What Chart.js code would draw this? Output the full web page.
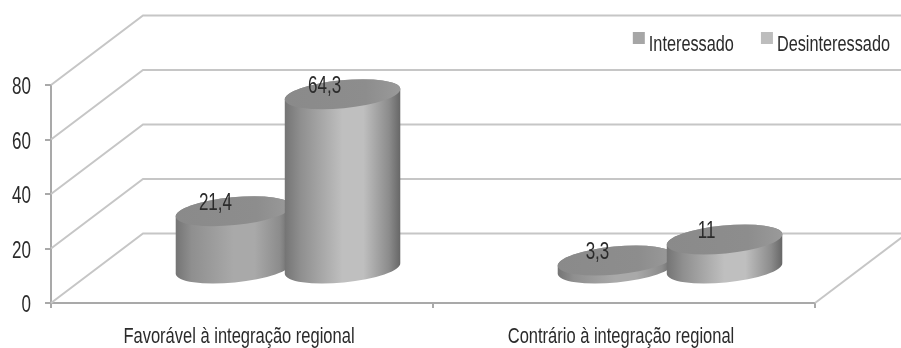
<!DOCTYPE html>
<html>
<head>
<meta charset="utf-8">
<style>
  html, body { margin: 0; padding: 0; background: #fff; }
  canvas { display: block; }
</style>
<script src="https://cdn.jsdelivr.net/npm/chart.js@4"></script>
</head>
<body>
<canvas id="myChart" width="901" height="348"></canvas>
<script>
const categories = ['Favorável à integração regional', 'Contrário à integração regional'];
const interessado = [21.4, 3.3];
const desinteressado = [64.3, 11];
const yTicks = [0, 20, 40, 60, 80];

const FONT = '"Liberation Sans", sans-serif';
const TEXT = '#2b2b2b';
const SQUEEZE = 0.74;               // condensed look, no narrow face installed
const DEPTH_X = 92, DEPTH_Y = 69.5; // how far the back wall sits from the front plane
const MID_X = 46, MID_Y = 33.5;     // where the cylinders stand on the floor
const TILT = -5.5 * Math.PI / 180;  // cap ellipses lean a little
const CAP_B = 14;

const canvas = document.getElementById('myChart');
const ctx = canvas.getContext('2d');

// every text call goes through a horizontal squeeze, the library's too
const rawFillText = ctx.fillText.bind(ctx);
const rawMeasureText = ctx.measureText.bind(ctx);
ctx.fillText = function (str, x, y) {
  ctx.save();
  ctx.translate(x, y);
  ctx.scale(SQUEEZE, 1);
  rawFillText(str, 0, 0);
  ctx.restore();
};
ctx.measureText = function (str) {
  return { width: rawMeasureText(str).width * SQUEEZE };
};

// small square for the legend, offset inside its canvas so it lines up with the text
function swatch(color) {
  const c = document.createElement('canvas');
  c.width = 24; c.height = 30;
  const g = c.getContext('2d');
  g.fillStyle = color;
  g.fillRect(8, 2, 12, 12);
  return c;
}

// bars are drawn as cylinders standing halfway into the floor
Chart.BarElement.prototype.draw = function (ctx) {
  const { x, y, base, width } = this.getProps(['x', 'y', 'base', 'width']);
  const cx = x + MID_X;
  const top = y - MID_Y;
  const bottom = base - MID_Y;
  const a = width / 2;
  const peak = this.options.backgroundColor;

  ctx.save();
  const body = ctx.createLinearGradient(cx - a, 0, cx + a, 0);
  body.addColorStop(0, '#747474');
  body.addColorStop(0.14, '#8f8f8f');
  body.addColorStop(0.5, peak);
  body.addColorStop(0.68, peak);
  body.addColorStop(0.9, '#8c8c8c');
  body.addColorStop(1, '#666666');
  ctx.fillStyle = body;
  ctx.beginPath();
  ctx.ellipse(cx, bottom, a, CAP_B, TILT, Math.PI, 0, true);
  ctx.ellipse(cx, top, a, CAP_B, TILT, 0, Math.PI, true);
  ctx.closePath();
  ctx.fill();

  const cap = ctx.createLinearGradient(cx - a, 0, cx + a, 0);
  cap.addColorStop(0, '#8a8a8a');
  cap.addColorStop(0.7, '#8d8d8d');
  cap.addColorStop(1, '#9a9a9a');
  ctx.fillStyle = cap;
  ctx.beginPath();
  ctx.ellipse(cx, top, a, CAP_B, TILT, 0, Math.PI * 2);
  ctx.fill();
  ctx.restore();
};

// the two walls and the floor behind the bars
const wallsPlugin = {
  id: 'walls',
  beforeDatasetsDraw(chart) {
    const { ctx, chartArea, scales } = chart;
    ctx.save();
    ctx.strokeStyle = '#c6c6c6';
    ctx.lineWidth = 2;
    for (const tick of yTicks) {
      const py = scales.y.getPixelForValue(tick);
      ctx.beginPath();
      ctx.moveTo(chartArea.left, py);
      ctx.lineTo(chartArea.left + DEPTH_X, py - DEPTH_Y);
      ctx.lineTo(chartArea.right + DEPTH_X, py - DEPTH_Y);
      ctx.stroke();
    }
    ctx.beginPath();
    ctx.moveTo(chartArea.right, chartArea.bottom);
    ctx.lineTo(chartArea.right + DEPTH_X, chartArea.bottom - DEPTH_Y);
    ctx.stroke();
    ctx.restore();
  },
};

// the library paints the first dataset last; here the later dataset has to overlap it,
// so the painting is done in dataset order, then the value on each cap with a decimal comma
const barsAndLabelsPlugin = {
  id: 'barsAndLabels',
  beforeDatasetDraw() {
    return false;
  },
  afterDatasetsDraw(chart) {
    const { ctx } = chart;
    chart.data.datasets.forEach((ds, i) => chart.getDatasetMeta(i).controller.draw());
    ctx.save();
    ctx.font = '23px ' + FONT;
    ctx.fillStyle = TEXT;
    ctx.textAlign = 'center';
    ctx.textBaseline = 'middle';
    chart.data.datasets.forEach((ds, i) => {
      chart.getDatasetMeta(i).data.forEach((bar, j) => {
        const label = String(ds.data[j]).replace('.', ',');
        ctx.fillText(label, bar.x + MID_X - 18, bar.y - MID_Y - 7.5);
      });
    });
    ctx.restore();
  },
};

// legend lives above the plot and runs past its right edge
const legendPlacePlugin = {
  id: 'legendPlace',
  afterLayout(chart) {
    chart.legend.right = 920;
    chart.legend.top = 4;
  },
};

new Chart(ctx, {
  type: 'bar',
  data: {
    labels: categories,
    datasets: [
      {
        label: 'Interessado',
        data: interessado,
        backgroundColor: '#a9a9a9',
        pointStyle: swatch('#a6a6a6'),
        clip: false,
      },
      {
        label: 'Desinteressado',
        data: desinteressado,
        backgroundColor: '#bfbfbf',
        pointStyle: swatch('#bdbdbd'),
        clip: false,
      },
    ],
  },
  options: {
    responsive: false,
    animation: false,
    categoryPercentage: 0.571,
    barPercentage: 1.064,
    layout: { padding: { top: 23, right: 86 } },
    plugins: {
      tooltip: { enabled: false },
      legend: {
        position: 'top',
        align: 'end',
        labels: {
          usePointStyle: true,
          boxWidth: 2,
          boxHeight: 20,
          padding: 30,
          color: TEXT,
          font: { family: FONT, size: 22 },
        },
      },
    },
    scales: {
      x: {
        afterFit(scale) { scale.height = 45; },
        grid: { drawOnChartArea: false, tickLength: 5, color: '#a9a9a9', lineWidth: 2 },
        border: { color: '#a9a9a9', width: 2 },
        ticks: { color: TEXT, font: { family: FONT, size: 22.3 }, padding: 15, maxRotation: 0, labelOffset: -3 },
      },
      y: {
        min: 0,
        max: 80,
        afterFit(scale) { scale.width = 51; },
        grid: { drawOnChartArea: false, tickLength: 6, color: '#a9a9a9', lineWidth: 2 },
        border: { color: '#a9a9a9', width: 2 },
        ticks: { stepSize: 20, color: TEXT, font: { family: FONT, size: 23 }, padding: 14, labelOffset: 3 },
      },
    },
  },
  plugins: [wallsPlugin, barsAndLabelsPlugin, legendPlacePlugin],
});
</script>
</body>
</html>
